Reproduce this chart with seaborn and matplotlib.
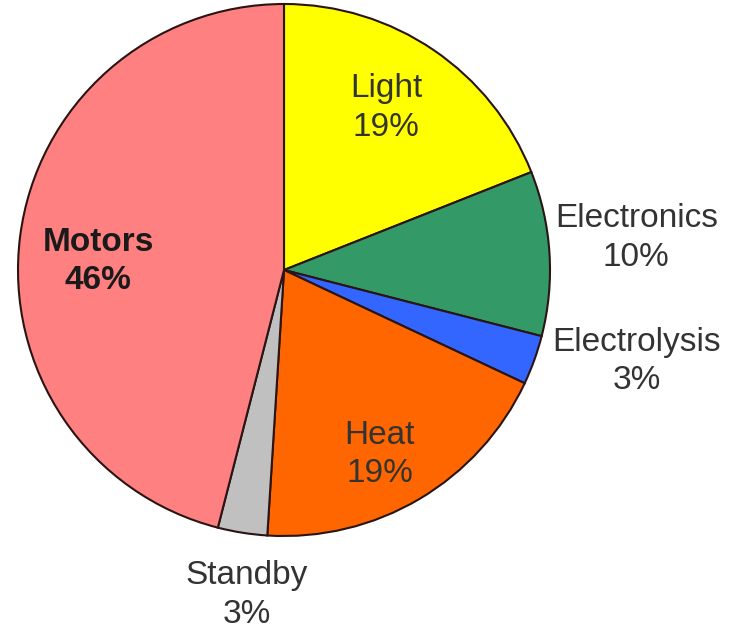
import numpy as np
import matplotlib.pyplot as plt
import seaborn as sns

# --- データ ---
categories = ["Light", "Electronics", "Electrolysis", "Heat", "Standby", "Motors"]
shares = [19, 10, 3, 19, 3, 46]
colors = ["#FFFF00", "#339966", "#3366FF", "#FF6600", "#C0C0C0", "#FF8080"]

# ラベル位置（半径比, 角度の補正[deg]）
label_dist = [0.72, 1.33, 1.37, 0.78, 1.23, 0.70]
label_shift = [2.0, 1.6, 5.2, -3.2, 2.5, 4.7]

sns.set_theme(style="white")
plt.rcParams['font.family'] = ['Liberation Sans', 'DejaVu Sans']

W, H = 742, 633
fig = plt.figure(figsize=(W / 100, H / 100), dpi=100)
ax = fig.add_axes([0, 0, 1, 1])

cx, cy, R = 284, H - 270, 266
wedges, _ = ax.pie(shares, colors=colors, startangle=90, counterclock=False,
                   center=(cx, cy), radius=R, frame=True,
                   wedgeprops=dict(edgecolor="#2a1414", linewidth=1.5))

for w, name, val, d, s in zip(wedges, categories, shares, label_dist, label_shift):
    ang = np.deg2rad((w.theta1 + w.theta2) / 2 + s)
    x = cx + d * R * np.cos(ang)
    y = cy + d * R * np.sin(ang)
    bold = name == "Motors"
    ax.text(x, y, "{}\n{}%".format(name, val), ha="center", va="center",
            fontsize=24, color="#1a1a1a" if bold else "#333333",
            fontweight="bold" if bold else "normal", linespacing=1.3)

ax.set_xlim(0, W)
ax.set_ylim(0, H)
ax.set_aspect("equal")
ax.axis("off")
fig.savefig("out.png", dpi=100, facecolor="white")
